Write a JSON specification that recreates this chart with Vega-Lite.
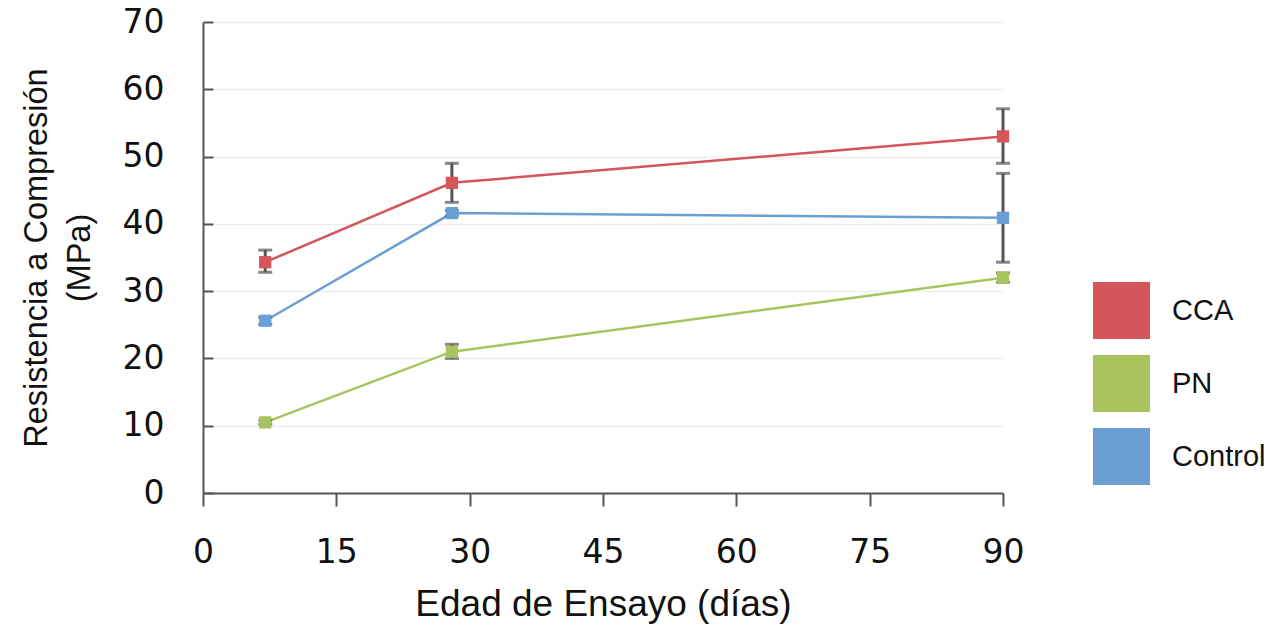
{
  "$schema": "https://vega.github.io/schema/vega-lite/v6.json",
  "autosize": {"type": "none"},
  "padding": {"left": 203, "top": 22, "right": 283, "bottom": 133},
  "width": 800,
  "height": 471,
  "background": "white",
  "config": {
    "view": {"stroke": null},
    "axis": {
      "labelFont": "DejaVu Sans",
      "labelFontSize": 33,
      "labelColor": "#111",
      "titleFont": "Liberation Sans",
      "titleFontWeight": "normal",
      "titleColor": "#111",
      "domainColor": "#555",
      "domainWidth": 2,
      "tickColor": "#555",
      "tickWidth": 2
    }
  },
  "data": {
    "values": [
      {"serie": "CCA", "dia": 7, "media": 34.3, "min": 32.8, "max": 36.1},
      {"serie": "CCA", "dia": 28, "media": 46.1, "min": 43.2, "max": 49.0},
      {"serie": "CCA", "dia": 90, "media": 53.0, "min": 49.0, "max": 57.1},
      {"serie": "PN", "dia": 7, "media": 10.5, "min": 10.2, "max": 10.8},
      {"serie": "PN", "dia": 28, "media": 21.0, "min": 20.0, "max": 22.1},
      {"serie": "PN", "dia": 90, "media": 32.0, "min": 31.3, "max": 32.7},
      {"serie": "Control", "dia": 7, "media": 25.6, "min": 25.1, "max": 26.1},
      {"serie": "Control", "dia": 28, "media": 41.6, "min": 41.2, "max": 42.0},
      {"serie": "Control", "dia": 90, "media": 40.9, "min": 34.3, "max": 47.5}
    ]
  },
  "encoding": {
    "x": {
      "field": "dia",
      "type": "quantitative",
      "scale": {"domain": [0, 90], "nice": false, "zero": false},
      "axis": {
        "title": "Edad de Ensayo (días)",
        "titleFontSize": 37,
        "values": [0, 15, 30, 45, 60, 75, 90],
        "grid": false,
        "labelFlush": false,
        "tickSize": 13,
        "labelPadding": 30,
        "titlePadding": 17
      }
    },
    "y": {
      "field": "media",
      "type": "quantitative",
      "scale": {"domain": [0, 70], "nice": false},
      "axis": {
        "title": ["Resistencia a Compresión", "(MPa)"],
        "titleFontSize": 32.5,
        "titleLineHeight": 43,
        "values": [0, 10, 20, 30, 40, 50, 60, 70],
        "grid": true,
        "gridColor": "#eeeeee",
        "gridWidth": 1.5,
        "tickSize": -10,
        "labelPadding": 49,
        "titlePadding": 26
      }
    }
  },
  "layer": [
    {
      "mark": {"type": "line", "strokeWidth": 2.5},
      "encoding": {
        "color": {"field": "serie", "type": "nominal"}
      }
    },
    {
      "mark": {"type": "rule", "color": "#555555", "strokeWidth": 3},
      "encoding": {"y": {"field": "min", "type": "quantitative"}, "y2": {"field": "max"}}
    },
    {
      "mark": {"type": "tick", "orient": "horizontal", "color": "#555555", "size": 14, "thickness": 3},
      "encoding": {"y": {"field": "min", "type": "quantitative"}}
    },
    {
      "mark": {"type": "tick", "orient": "horizontal", "color": "#555555", "size": 14, "thickness": 3},
      "encoding": {"y": {"field": "max", "type": "quantitative"}}
    },
    {
      "mark": {"type": "point", "shape": "square", "filled": true, "size": 150, "opacity": 1},
      "encoding": {
        "color": {
          "field": "serie",
          "type": "nominal",
          "scale": {"domain": ["CCA", "PN", "Control"], "range": ["#d4565a", "#a8c45e", "#6a9fd4"]},
          "legend": {
            "title": null,
            "orient": "none",
            "legendX": 890,
            "legendY": 260,
            "symbolType": "square",
            "symbolSize": 3249,
            "symbolStrokeWidth": 0,
            "symbolOpacity": 1,
            "rowPadding": 16,
            "labelOffset": 22,
            "labelFont": "Liberation Sans",
            "labelFontSize": 29,
            "labelColor": "#111"
          }
        }
      }
    }
  ]
}
